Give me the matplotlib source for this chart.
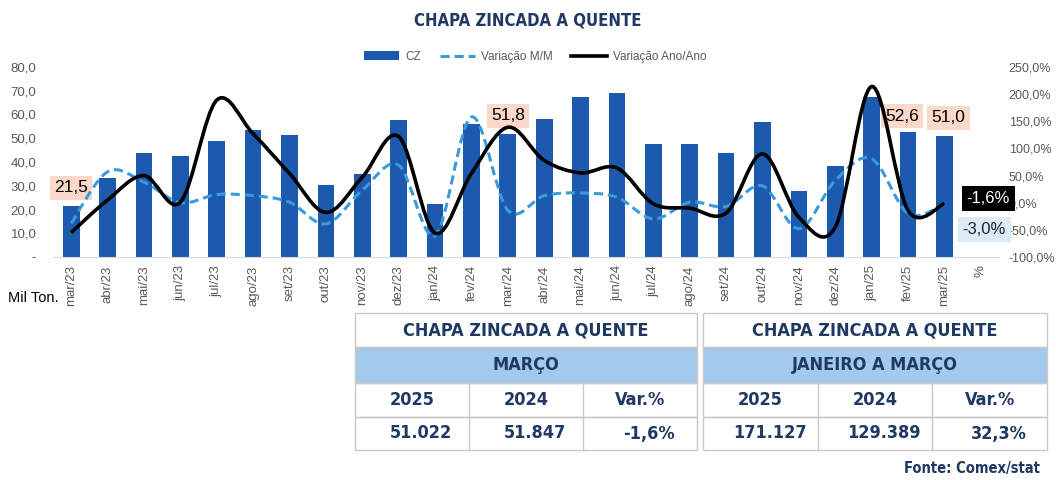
import numpy as np
import matplotlib
matplotlib.use("Agg")
import matplotlib.pyplot as plt
from matplotlib.path import Path
from matplotlib.patches import PathPatch, Patch, Rectangle
from matplotlib.lines import Line2D

MONTHS = ["mar/23", "abr/23", "mai/23", "jun/23", "jul/23", "ago/23", "set/23", "out/23",
          "nov/23", "dez/23", "jan/24", "fev/24", "mar/24", "abr/24", "mai/24", "jun/24",
          "jul/24", "ago/24", "set/24", "out/24", "nov/24", "dez/24", "jan/25", "fev/25", "mar/25"]
CZ = [21.5, 33.3, 43.8, 42.7, 48.8, 53.5, 51.5, 30.3, 34.8, 57.7, 22.2, 55.9, 51.8,
      58.1, 67.2, 69.2, 47.7, 47.7, 43.7, 57.0, 27.9, 38.3, 67.5, 52.6, 51.0]
VAR_MM = [-38, 57, 38, 0, 15, 13, 1, -39, 23, 69, -61, 158, -14,
          13, 18, 10, -30, 1, -7, 31, -48, 41, 81, -20, -3.0]
VAR_AA = [-55, 5, 50, 1, 189, 127, 54, -18, 47, 122, -56, 54, 139,
          78, 55, 64, -2, -10, -19, 90, -27, -45, 214, -14, -1.6]
LABELED = [0, 12, 23, 24]          # bars with a value box

TITLE = "CHAPA ZINCADA A QUENTE"
TAB_HEAD = ["MARÇO", "JANEIRO A MARÇO"]
TAB_COLS = ["2025", "2024", "Var.%"]
TAB_VALS = [["51.022", "51.847", "-1,6%"], ["171.127", "129.389", "32,3%"]]

NAVY = "#1F3864"
BAR = "#1C5AAE"
MM = "#3A9BDC"
GRAY = "#595959"
COND = dict(family=["DejaVu Sans"], fontstretch="condensed", fontweight="bold", color=NAVY)
plt.rcParams["font.family"] = ["Liberation Sans", "DejaVu Sans"]


def smooth(x, y, t=1 / 6):
    """Excel-like smoothed line: Catmull-Rom as cubic Bezier path."""
    P = np.column_stack([x, y]).astype(float)
    n = len(P)
    verts, codes = [P[0]], [Path.MOVETO]
    for i in range(n - 1):
        p0 = P[i - 1] if i > 0 else P[i]
        p3 = P[i + 2] if i + 2 < n else P[i + 1]
        verts += [P[i] + (P[i + 1] - p0) * t, P[i + 1] - (p3 - P[i]) * t, P[i + 1]]
        codes += [Path.CURVE4] * 3
    return Path(verts, codes)


W, H = 1056, 480
fig = plt.figure(figsize=(W / 100, H / 100), dpi=100)
ax = fig.add_axes([53 / W, 1 - 257 / H, 946 / W, 190 / H])
ax2 = ax.twinx()

x = np.arange(len(MONTHS))
ax.bar(x, CZ, width=0.46, color=BAR, zorder=2)
ax.set_ylim(0, 80)
ax.set_xlim(-0.5, len(MONTHS) + 0.5)
ax.set_yticks(np.arange(0, 81, 10))
ax.set_yticklabels(["-"] + [f"{v:.1f}".replace(".", ",") for v in np.arange(10, 81, 10)])
ax.set_xticks(np.arange(len(MONTHS) + 1))
ax.set_xticklabels(MONTHS + ["%"], rotation=90)
ax.tick_params(axis="both", length=0, colors=GRAY, labelsize=9.5)
ax.tick_params(axis="y", pad=12)
ax.tick_params(axis="x", pad=6)

ax2.set_ylim(-100, 250)
ax2.set_yticks(np.arange(-100, 251, 50))
ax2.set_yticklabels([f"{v:.1f}%".replace(".", ",") for v in np.arange(-100, 251, 50)])
ax2.tick_params(axis="y", length=0, colors=GRAY, labelsize=9, pad=7)
ax2.add_patch(PathPatch(smooth(x, VAR_MM), fill=False, ec=MM, lw=2.2, ls=(0, (3, 1.6)), zorder=3))
ax2.add_patch(PathPatch(smooth(x, VAR_AA), fill=False, ec="black", lw=2.6, zorder=4))

for a in (ax, ax2):
    for s in a.spines.values():
        s.set_visible(False)
ax.spines["bottom"].set_visible(True)
ax.spines["bottom"].set_color("#D9D9D9")

# value boxes
offs = {0: (0, 18), 12: (0, 18), 23: (-6, 16), 24: (4, 18)}
for i in LABELED:
    ax.annotate(f"{CZ[i]:.1f}".replace(".", ","), (x[i], CZ[i]), xytext=offs[i],
                textcoords="offset pixels", ha="center", va="center", fontsize=12.5,
                bbox=dict(boxstyle="square,pad=0.25", fc="#FAD9C8", ec="none"), zorder=6)
ax2.annotate(f"{VAR_AA[-1]:.1f}%".replace(".", ","), (x[-1], VAR_AA[-1]), xytext=(44, 5),
             textcoords="offset pixels", ha="center", va="center", fontsize=12, color="white",
             bbox=dict(boxstyle="square,pad=0.3", fc="black", ec="none"), zorder=6)
ax2.annotate(f"{VAR_MM[-1]:.1f}%".replace(".", ","), (x[-1], VAR_MM[-1]), xytext=(40, -25),
             textcoords="offset pixels", ha="center", va="center", fontsize=12, color="#222222",
             bbox=dict(boxstyle="square,pad=0.3", fc="#DCEBF8", ec="none"), zorder=6)

fig.text(528 / W, 1 - 20 / H, TITLE, ha="center", va="center", fontsize=12, **COND)
fig.text(8 / W, 1 - 298 / H, "Mil Ton.", ha="left", va="center", fontsize=10.5, color="black")

handles = [Patch(fc=BAR), Line2D([], [], color=MM, lw=2.2, ls=(0, (3, 1.6))),
           Line2D([], [], color="black", lw=2.6)]
fig.legend(handles, ["CZ", "Variação M/M", "Variação Ano/Ano"], loc="center",
           bbox_to_anchor=(535 / W, 1 - 57 / H), ncol=3, frameon=False, fontsize=8.5,
           labelcolor=GRAY, handlelength=3.0, handleheight=0.8, columnspacing=1.6,
           handletextpad=0.5)

# summary tables, drawn in pixel space
tx = fig.add_axes([0, 0, 1, 1], zorder=-1)
tx.set_xlim(0, W); tx.set_ylim(H, 0); tx.axis("off")
rows = [313, 347, 383, 417, 450]
for k, (x0, x1) in enumerate([(355, 697), (703, 1047)]):
    cw = (x1 - x0) / 3
    tx.add_patch(Rectangle((x0, rows[1]), x1 - x0, rows[2] - rows[1], fc="#A3C9EC", ec="none"))
    for r in range(4):
        tx.add_patch(Rectangle((x0, rows[r]), x1 - x0, rows[r + 1] - rows[r], fc="none",
                               ec="#C8C8C8", lw=1))
    for r in (2, 3):
        for c in (1, 2):
            tx.plot([x0 + c * cw] * 2, [rows[r], rows[r + 1]], color="#C8C8C8", lw=1)
    cx = (x0 + x1) / 2
    tx.text(cx, (rows[0] + rows[1]) / 2, TITLE, ha="center", va="center", fontsize=13, **COND)
    tx.text(cx, (rows[1] + rows[2]) / 2, TAB_HEAD[k], ha="center", va="center", fontsize=13,
            **COND)
    for c in range(3):
        tx.text(x0 + (c + 0.5) * cw, (rows[2] + rows[3]) / 2, TAB_COLS[c], ha="center",
                va="center", fontsize=13, **COND)
        tx.text(x0 + (c + 0.58) * cw, (rows[3] + rows[4]) / 2, TAB_VALS[k][c], ha="center",
                va="center", fontsize=13, **COND)
tx.text(1040, 468, "Fonte: Comex/stat", ha="right", va="center", fontsize=10.5, **COND)

fig.savefig("out.png", dpi=100)
